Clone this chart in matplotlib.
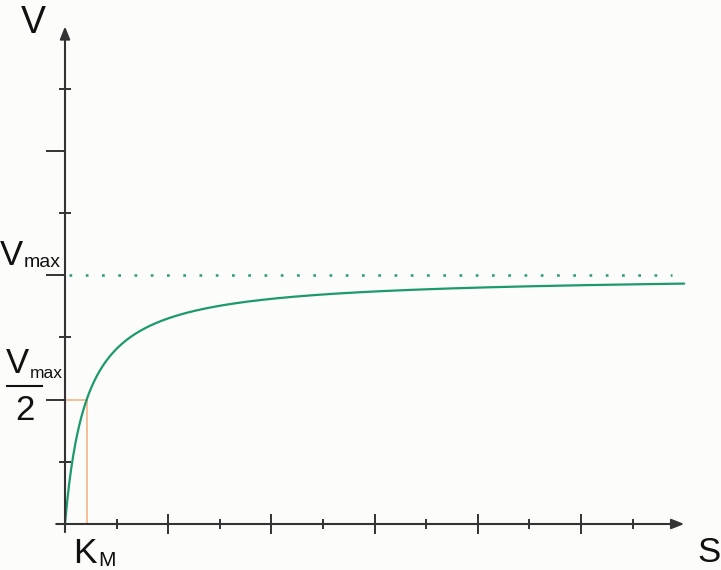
import numpy as np
import matplotlib
matplotlib.use("Agg")
import matplotlib.pyplot as plt
from matplotlib.lines import Line2D

# Michaelis-Menten parameters (axis units: one tick = one unit)
KM = 0.42
VMAX = 4.0
S_MAX = 12.0
V_AXIS_MAX = 8.0

x_major = [2, 4, 6, 8, 10]
x_minor = [1, 3, 5, 7, 9, 11]
y_major = [2, 4, 6]
y_minor = [1, 3, 5, 7]

axis_label_x = "S"
axis_label_y = "V"
km_label = ("K", "M")
vmax_label = ("V", "max")

AXIS_COLOR = "#333333"
CURVE_COLOR = "#1c9a6c"
ORANGE = "#f4ae7a"
BG = "#fcfcfa"
FONT = "Liberation Sans"

fig = plt.figure(figsize=(7.21, 5.70), dpi=100, facecolor=BG)
ax = fig.add_axes([0, 0, 1, 1], facecolor=BG)

# origin at pixel (65, 524); 51.6 px per S unit, 62.2 px per V unit
sx, sy = 51.6, 62.2
ax.set_xlim(-65 / sx, (721 - 65) / sx)
ax.set_ylim(-(570 - 524) / sy, 524 / sy)

# saturation curve
s = np.linspace(0, S_MAX, 600)
v = VMAX * s / (KM + s)
ax.plot(s, v, color=CURVE_COLOR, lw=1.6, zorder=4, solid_capstyle="round")

# Vmax asymptote
ax.plot([0.08, 11.76], [VMAX, VMAX], color="#2a9a7a", lw=1.8,
        dashes=(1.1, 5.4), dash_capstyle="butt", zorder=3)

# Km construction lines
ax.plot([0, KM], [VMAX / 2, VMAX / 2], color=ORANGE, lw=1.1, zorder=3)
ax.plot([KM, KM], [VMAX / 2, 0], color=ORANGE, lw=1.1, zorder=3)

# axes with arrows
arrow = dict(arrowstyle="-|>,head_length=0.75,head_width=0.3", color=AXIS_COLOR,
             lw=1.5, shrinkA=0, shrinkB=0)
ax.annotate("", xy=(S_MAX, 0), xytext=(-0.17, 0), arrowprops=arrow, zorder=5)
ax.annotate("", xy=(0, V_AXIS_MAX), xytext=(0, -0.13), arrowprops=arrow, zorder=5)

for side in ("top", "right", "left", "bottom"):
    ax.spines[side].set_visible(False)
ax.spines["left"].set_position(("data", 0))
ax.spines["bottom"].set_position(("data", 0))

ax.set_xticks(x_major)
ax.set_xticks(x_minor, minor=True)
ax.set_yticks(y_major)
ax.set_yticks(y_minor, minor=True)
ax.tick_params(axis="x", which="major", direction="inout", length=14, width=1.4,
               color=AXIS_COLOR, labelbottom=False)
ax.tick_params(axis="x", which="minor", direction="inout", length=7.5, width=1.4,
               color=AXIS_COLOR)
ax.tick_params(axis="y", which="major", direction="out", length=13.5, width=1.4,
               color=AXIS_COLOR, labelleft=False)
ax.tick_params(axis="y", which="minor", direction="inout", length=8.5, width=1.4,
               color=AXIS_COLOR)


def px(x, y):
    return ((x - 65) / sx, (524 - y) / sy)


txt = dict(color="#111111", va="baseline", ha="left", family=FONT)

# axis titles
ax.text(*px(21, 33), axis_label_y, fontsize=27, **txt)
ax.text(*px(697, 562), axis_label_x, fontsize=25, **txt)

# Km label
ax.text(*px(73, 563), km_label[0], fontsize=25.5, **txt)
ax.text(*px(98, 566), km_label[1], fontsize=15, **txt)

# Vmax label
ax.text(*px(0, 265), vmax_label[0], fontsize=25, **txt)
ax.text(*px(24, 267), vmax_label[1], fontsize=14, **txt)

# Vmax / 2 label
ax.text(*px(6, 373), vmax_label[0], fontsize=25, **txt)
ax.text(*px(30, 378), vmax_label[1], fontsize=12.5, **txt)
fx0, fy = px(7, 386)
fx1, _ = px(42, 386)
ax.add_line(Line2D([fx0, fx1], [fy, fy], color="#111111", lw=1.5))
ax.text(*px(15, 420), "2", fontsize=25, **txt)

fig.savefig("out.png", dpi=100, facecolor=BG)
